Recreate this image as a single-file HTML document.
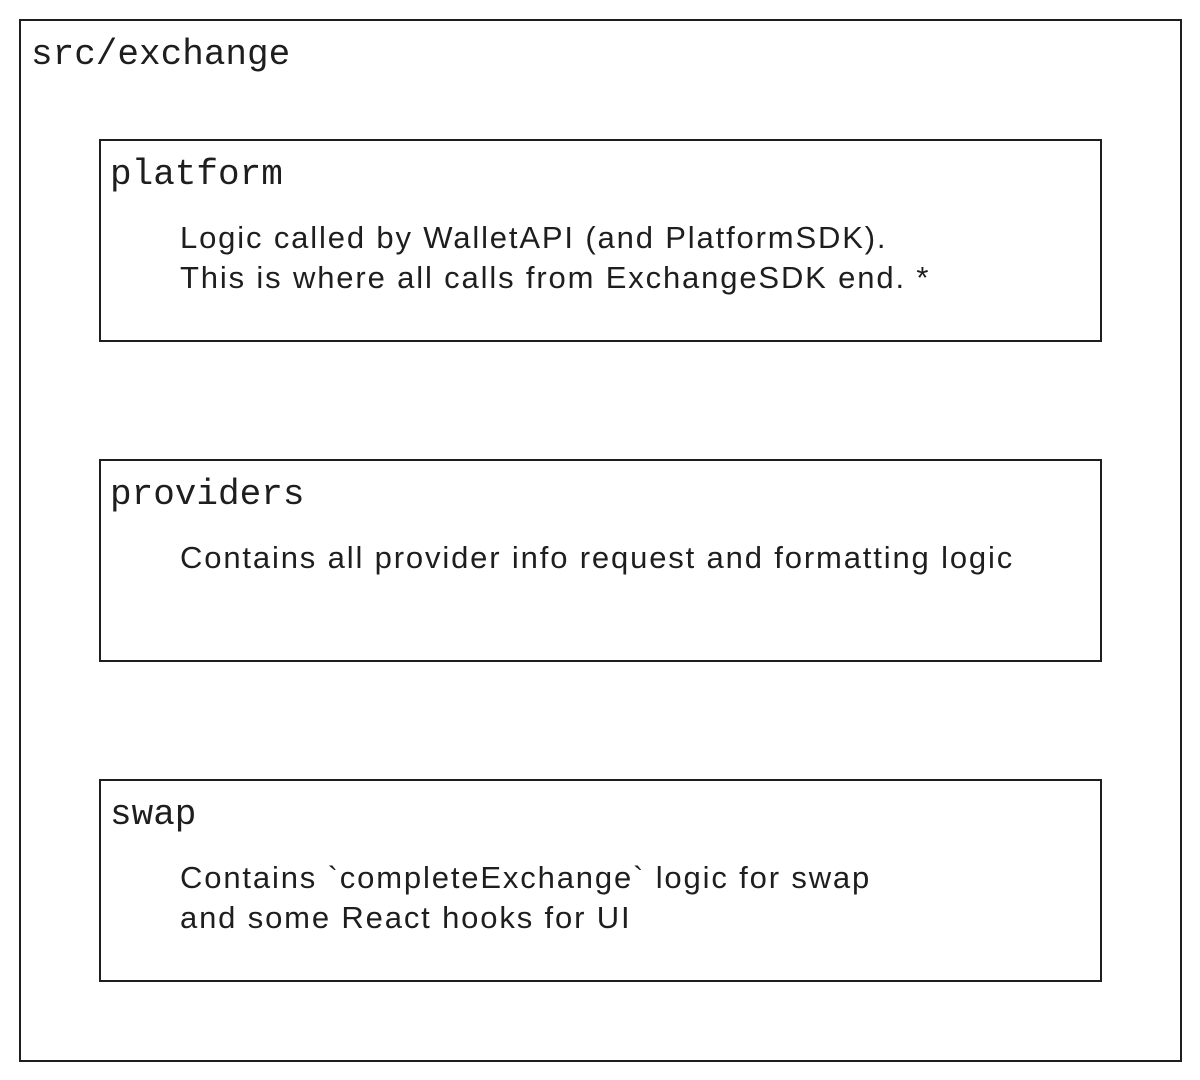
<!DOCTYPE html>
<html><head><meta charset="utf-8"><style>
html,body{margin:0;padding:0;background:#fff;}
body{width:1200px;height:1080px;position:relative;overflow:hidden;}
.box{position:absolute;border:2px solid #1e1e1e;box-sizing:border-box;}
.t{position:absolute;font-family:"Liberation Mono",monospace;font-size:36px;color:#1e1e1e;white-space:pre;line-height:1;}
.d{position:absolute;font-family:"Liberation Sans",sans-serif;font-size:31px;color:#1e1e1e;white-space:pre;line-height:40px;letter-spacing:1.85px;}
</style></head><body>
<div class="box" style="left:19px;top:19px;width:1163px;height:1043px;"></div>
<div class="t" style="left:31px;top:37px;">src/exchange</div>

<div class="box" style="left:99px;top:139px;width:1003px;height:203px;"></div>
<div class="t" style="left:110px;top:157px;">platform</div>
<div class="d" style="left:180px;top:218px;">Logic called by WalletAPI (and PlatformSDK).
This is where all calls from ExchangeSDK end. *</div>

<div class="box" style="left:99px;top:459px;width:1003px;height:203px;"></div>
<div class="t" style="left:110px;top:477px;">providers</div>
<div class="d" style="left:180px;top:538px;">Contains all provider info request and formatting logic</div>

<div class="box" style="left:99px;top:779px;width:1003px;height:203px;"></div>
<div class="t" style="left:110px;top:797px;">swap</div>
<div class="d" style="left:180px;top:858px;">Contains `completeExchange` logic for swap
and some React hooks for UI</div>
</body></html>
